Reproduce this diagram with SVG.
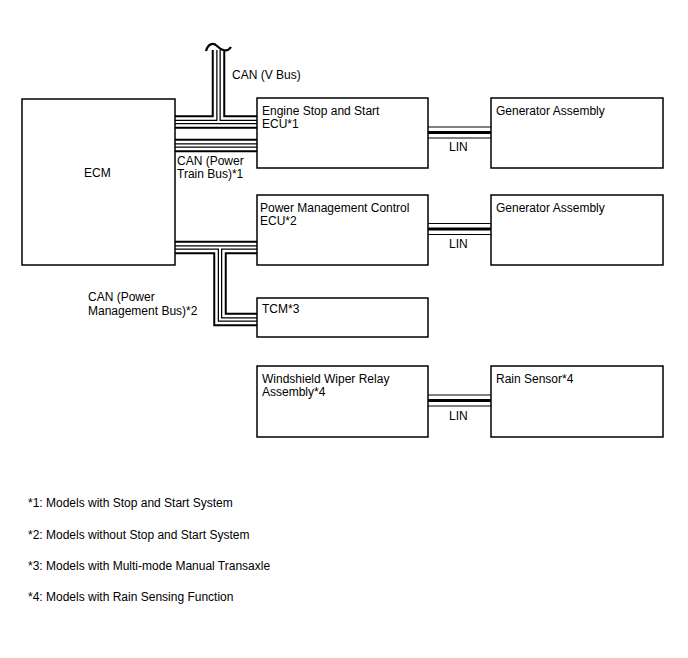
<svg xmlns="http://www.w3.org/2000/svg" width="688" height="658" viewBox="0 0 688 658">
<style>
text{font-family:"Liberation Sans",Arial,sans-serif;font-size:12px;fill:#000}
.box{fill:#fff;stroke:#000;stroke-width:1.5}
.b1{fill:none;stroke:#000;stroke-width:13.5;stroke-linejoin:miter}
.b2{fill:none;stroke:#fff;stroke-width:9.5;stroke-linejoin:miter}
.b3{fill:none;stroke:#000;stroke-width:4.5;stroke-linejoin:miter}
.b4{fill:none;stroke:#fff;stroke-width:2;stroke-linejoin:miter}
.l1{fill:none;stroke:#000;stroke-width:12}
.l2{fill:none;stroke:#fff;stroke-width:10}
.l3{fill:none;stroke:#000;stroke-width:3}
</style>
<defs>
<path id="busV" d="M218.5,50 V122 M175,122 H257"/>
<path id="busP" d="M175,145.5 H257"/>
<path id="busM" d="M175,247.5 H257 M220,247.5 V319.5 H257"/>
<path id="lin1" d="M428,132.5 H491"/>
<path id="lin2" d="M428,229 H491"/>
<path id="lin3" d="M428,400.5 H491"/>
</defs>
<rect width="688" height="658" fill="#fff"/>
<g id="connectors">
<use href="#busV" class="b1"/><use href="#busP" class="b1"/><use href="#busM" class="b1"/>
<use href="#busV" class="b2"/><use href="#busP" class="b2"/><use href="#busM" class="b2"/>
<use href="#busV" class="b3"/><use href="#busP" class="b3"/><use href="#busM" class="b3"/>
<use href="#busV" class="b4"/><use href="#busP" class="b4"/><use href="#busM" class="b4"/>
<path d="M206,51 C208,44 213,42 217,46 S227,53 231,47" fill="none" stroke="#000" stroke-width="2.2"/>
<use href="#lin1" class="l1"/><use href="#lin2" class="l1"/><use href="#lin3" class="l1"/>
<use href="#lin1" class="l2"/><use href="#lin2" class="l2"/><use href="#lin3" class="l2"/>
<use href="#lin1" class="l3"/><use href="#lin2" class="l3"/><use href="#lin3" class="l3"/>
<text x="232" y="79">CAN (V Bus)</text>
<text x="177" y="165">CAN (Power</text>
<text x="177" y="178">Train Bus)*1</text>
<text x="88" y="301">CAN (Power</text>
<text x="88" y="315">Management Bus)*2</text>
<text x="449" y="151">LIN</text>
<text x="449" y="248">LIN</text>
<text x="449" y="420">LIN</text>
</g>
<g id="ecm"><rect class="box" x="22" y="99" width="153" height="166"/><text x="84" y="177">ECM</text></g>
<g id="engine-ecu"><rect class="box" x="257" y="98" width="171" height="70"/><text x="262" y="115">Engine Stop and Start</text><text x="262" y="128">ECU*1</text></g>
<g id="generator1"><rect class="box" x="491" y="98" width="172" height="70"/><text x="496" y="115">Generator Assembly</text></g>
<g id="power-ecu"><rect class="box" x="257" y="195" width="171" height="70"/><text x="260" y="212">Power Management Control</text><text x="260" y="225">ECU*2</text></g>
<g id="generator2"><rect class="box" x="491" y="195" width="172" height="70"/><text x="496" y="212">Generator Assembly</text></g>
<g id="tcm"><rect class="box" x="257" y="298" width="171" height="39"/><text x="262" y="313">TCM*3</text></g>
<g id="wiper"><rect class="box" x="257" y="366" width="171" height="71"/><text x="262" y="383">Windshield Wiper Relay</text><text x="262" y="396">Assembly*4</text></g>
<g id="rain"><rect class="box" x="491" y="366" width="172" height="71"/><text x="496" y="383">Rain Sensor*4</text></g>
<g id="notes">
<text x="28" y="507">*1: Models with Stop and Start System</text>
<text x="28" y="539">*2: Models without Stop and Start System</text>
<text x="28" y="570">*3: Models with Multi-mode Manual Transaxle</text>
<text x="28" y="601">*4: Models with Rain Sensing Function</text>
</g>
</svg>
